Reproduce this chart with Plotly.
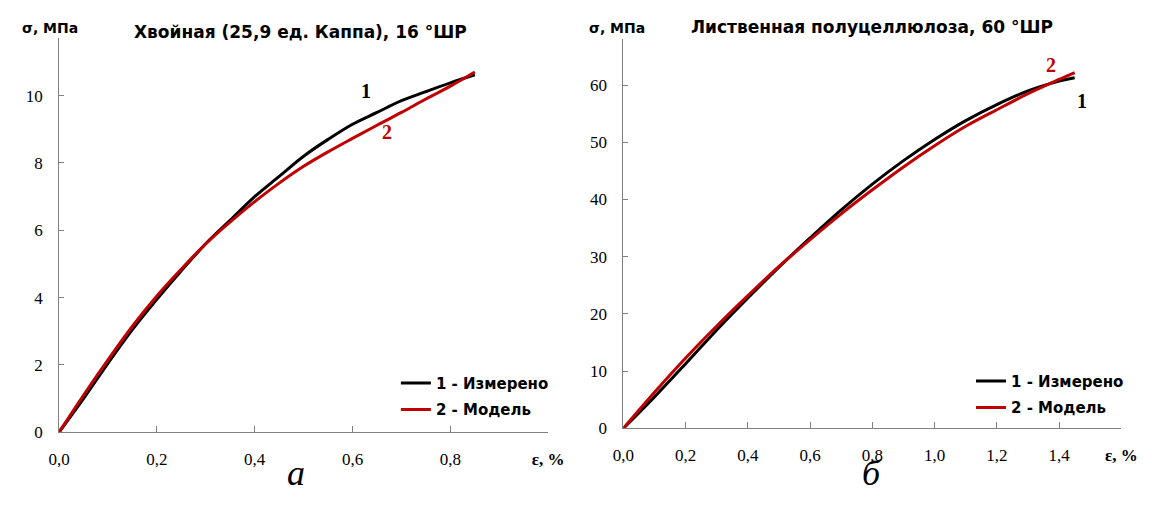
import plotly.graph_objects as go

# page offset (default body margin of the written html page)
OFF = 8
W, H = 1152 - OFF, 505 - OFF

# ---- data ----
eps_a = [0.0, 0.05, 0.10, 0.15, 0.20, 0.25, 0.30, 0.35, 0.40, 0.45, 0.50, 0.55, 0.60, 0.65, 0.70, 0.75, 0.80, 0.85]
sig_a_meas = [0.0, 1.0, 2.05, 3.05, 3.95, 4.8, 5.6, 6.3, 7.0, 7.6, 8.2, 8.7, 9.15, 9.5, 9.85, 10.12, 10.38, 10.62]
sig_a_model = [0.0, 1.1, 2.15, 3.15, 4.05, 4.85, 5.6, 6.25, 6.85, 7.4, 7.9, 8.33, 8.73, 9.12, 9.5, 9.9, 10.28, 10.7]

eps_b = [0.0, 0.1, 0.2, 0.3, 0.4, 0.5, 0.6, 0.7, 0.8, 0.9, 1.0, 1.1, 1.2, 1.3, 1.4, 1.45]
sig_b_meas = [0.0, 5.5, 11.3, 17.2, 22.8, 28.2, 33.3, 38.2, 42.7, 46.8, 50.5, 53.8, 56.6, 59.0, 60.7, 61.3]
sig_b_model = [0.0, 6.3, 12.3, 17.9, 23.2, 28.3, 33.0, 37.5, 41.7, 45.7, 49.4, 52.8, 55.7, 58.5, 61.0, 62.2]

xticks_a = [0.0, 0.2, 0.4, 0.6, 0.8, 1.0]
xtext_a = ["0,0", "0,2", "0,4", "0,6", "0,8", "<b>ε, %</b>"]
yticks_a = [0, 2, 4, 6, 8, 10]
xticks_b = [0.0, 0.2, 0.4, 0.6, 0.8, 1.0, 1.2, 1.4, 1.6]
xtext_b = ["0,0", "0,2", "0,4", "0,6", "0,8", "1,0", "1,2", "1,4", "<b>ε, %</b>"]
yticks_b = [0, 10, 20, 30, 40, 50, 60]

name_meas = "1 - Измерено"
name_model = "2 - Модель"
title_a = "Хвойная (25,9 ед. Каппа), 16 °ШР"
title_b = "Лиственная полуцеллюлоза, 60 °ШР"

BLACK = "#000000"
RED = "#C00000"
AX = "#808080"
SERIF = "Liberation Serif"
SANS = "DejaVu Sans"


def px(x):
    return (x - OFF) / W


def py(y):
    return (H - (y - OFF)) / H


fig = go.Figure()
lw = 3
fig.add_trace(go.Scatter(x=eps_a, y=sig_a_meas, mode="lines", name=name_meas,
                         line=dict(color=BLACK, width=lw, shape="spline", smoothing=1.0),
                         xaxis="x", yaxis="y", legend="legend", legendgroup="a1"))
fig.add_trace(go.Scatter(x=eps_a, y=sig_a_model, mode="lines", name=name_model,
                         line=dict(color=RED, width=lw, shape="spline", smoothing=1.0),
                         xaxis="x", yaxis="y", legend="legend", legendgroup="a2"))
fig.add_trace(go.Scatter(x=eps_b, y=sig_b_meas, mode="lines", name=name_meas,
                         line=dict(color=BLACK, width=lw, shape="spline", smoothing=1.0),
                         xaxis="x2", yaxis="y2", legend="legend2", legendgroup="b1"))
fig.add_trace(go.Scatter(x=eps_b, y=sig_b_model, mode="lines", name=name_model,
                         line=dict(color=RED, width=lw, shape="spline", smoothing=1.0),
                         xaxis="x2", yaxis="y2", legend="legend2", legendgroup="b2"))

axis_common = dict(showline=True, linecolor=AX, linewidth=1, ticks="inside",
                   tickcolor=AX, tickwidth=1, showgrid=False, zeroline=False,
                   tickfont=dict(family=SERIF, size=17, color="black"))

legend_font = dict(family=SANS, size=15, color="black", weight="bold")

fig.update_layout(
    width=W, height=H,
    margin=dict(l=0, r=0, t=0, b=0),
    paper_bgcolor="white", plot_bgcolor="white",
    xaxis=dict(domain=[px(49), px(550)], range=[0, 1.0], anchor="y",
               tickvals=xticks_a, ticktext=xtext_a, ticklen=6, ticklabelstandoff=11, **axis_common),
    yaxis=dict(domain=[py(441), py(39)], range=[0, 11.7], anchor="x",
               tickvals=yticks_a, ticklen=5, ticklabelstandoff=12, **axis_common),
    xaxis2=dict(domain=[px(627), px(1137)], range=[0, 1.6], anchor="y2",
                tickvals=xticks_b, ticktext=xtext_b, ticklen=6, ticklabelstandoff=11, **axis_common),
    yaxis2=dict(domain=[py(437), py(40)], range=[0, 68], anchor="x2",
                tickvals=yticks_b, ticklen=5, ticklabelstandoff=12, **axis_common),
    legend=dict(x=px(394), y=py(374), xanchor="left", yanchor="top",
                bgcolor="rgba(0,0,0,0)", itemwidth=30, tracegroupgap=4, font=legend_font),
    legend2=dict(x=px(983), y=py(372), xanchor="left", yanchor="top",
                 bgcolor="rgba(0,0,0,0)", itemwidth=30, tracegroupgap=4, font=legend_font),
    showlegend=True,
)

ann = []


def add_text(text, x, y, font, xref="paper", yref="paper", yanchor="middle"):
    ann.append(dict(text=text, xref=xref, yref=yref, x=x, y=y, showarrow=False,
                    xanchor="center", yanchor=yanchor, font=font))


title_font = dict(family=SANS, size=17, color="black", weight="bold")
add_text(title_a, px(296), py(33), title_font)
add_text(title_b, px(882), py(27), title_font)
ylab_font = dict(family=SANS, size=14, color="black", weight="bold")
add_text("σ, МПа", px(40), py(28), ylab_font)
add_text("σ, МПа", px(620), py(28), ylab_font)
# curve labels
add_text("1", 0.627, 10.14, dict(family=SERIF, size=20, color=BLACK, weight="bold"), "x", "y")
add_text("2", 0.671, 8.93, dict(family=SERIF, size=20, color=RED, weight="bold"), "x", "y")
add_text("2", 1.375, 63.5, dict(family=SERIF, size=20, color=RED, weight="bold"), "x2", "y2")
add_text("1", 1.475, 57.3, dict(family=SERIF, size=20, color=BLACK, weight="bold"), "x2", "y2")
# panel letters
letter_font = dict(family=SERIF, size=36, color="black", style="italic")
add_text("а", px(292), 0.0, letter_font, yanchor="bottom")
add_text("б", px(882), 0.0, letter_font, yanchor="bottom")
fig.update_layout(annotations=ann)

fig.write_html("out.html")
